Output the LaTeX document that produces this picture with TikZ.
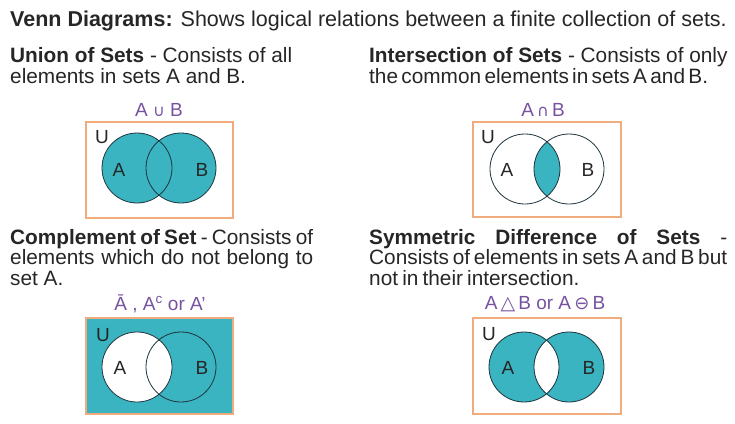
\documentclass[tikz,border=0pt]{standalone}
\usepackage{fontspec}
\setmainfont{Liberation Sans}
\newfontfamily\symfont{DejaVu Sans}
\usetikzlibrary{calc}

\definecolor{vennteal}{RGB}{58,180,192}
\definecolor{boxorange}{RGB}{240,172,125}
\definecolor{setpurple}{RGB}{118,82,160}
\definecolor{textgray}{RGB}{38,38,38}
\definecolor{edgeblue}{RGB}{30,52,62}

\newcommand{\setop}[2][16]{{\symfont\fontsize{#1}{#1}\selectfont #2}}
\newcommand{\tightline}[2]{{\spaceskip=0.16em plus 1em\makebox[#1][s]{#2}}}

\tikzset{
  headtext/.style={anchor=base west, inner sep=0pt, align=left,
    font=\fontsize{20.8}{20.5}\selectfont, text=textgray},
  setlabel/.style={anchor=base, inner sep=0pt,
    font=\fontsize{19}{20}\selectfont, text=setpurple},
  letter/.style={inner sep=0pt, font=\fontsize{19}{20}\selectfont, text=textgray},
  universe/.style={draw=boxorange, line width=1.3pt},
  setline/.style={draw=edgeblue, line width=0.8pt}
}

\begin{document}
\begin{tikzpicture}[x=1pt,y=-1pt]
            \useasboundingbox (0,0) rectangle (735,423);

            % Place the heading and the explanations (anchored at the last line)
            \node[headtext,font=\fontsize{21.5}{22}\selectfont] (title) at (10,26) {\textbf{Venn Diagrams:} Shows logical relations between a finite collection of sets.};
            \node[headtext] (unionhd) at (10,83) {\textbf{Union of Sets} - Consists of all\\elements in sets A and B.};
            \node[headtext] (interhd) at (369,83) {\textbf{Intersection of Sets} - Consists of only\\\tightline{337pt}{the common elements in sets A and B.}};
            \node[headtext] (comphd) at (10,285) {\makebox[303pt][s]{\textbf{Complement of Set} - Consists of}\\\makebox[303pt][s]{elements which do not belong to}\\set A.};
            \node[headtext] (symhd) at (369,285) {\makebox[358pt][s]{\textbf{Symmetric Difference of Sets} -}\\\tightline{358pt}{Consists of elements in sets A and B but}\\{\spaceskip=0.2em not in their intersection.}};

            % Place the set labels
            \node[setlabel] (unionlbl) at (159,116) {A \setop{∪} B};
            \node[setlabel] (interlbl) at (543,116) {A\,\setop{∩}\,B};
            \node[setlabel] (complbl) at (160,310) {Ā , A\textsuperscript{c} or A\symbol{"27}};
            \node[setlabel] (symlbl) at (545,309) {A\,\setop[19]{△}\,B or A\,\setop[18]{⊖}\,B};

            % The circle centres
            \coordinate (ua) at (137,168);
            \coordinate (ub) at (181,168);
            \coordinate (ia) at (525,169);
            \coordinate (ib) at (569,169);
            \coordinate (ca) at (137,367);
            \coordinate (cb) at (181,367);
            \coordinate (sa) at (524,367);
            \coordinate (sb) at (569,367);

            % Union
            \fill[vennteal] (ua) circle[radius=35] (ub) circle[radius=35];
            \draw[setline] (ua) circle[radius=35] (ub) circle[radius=35];
            \draw[universe] (86,122) rectangle (233,218);

            % Intersection
            \begin{scope}
              \clip (ia) circle[radius=35];
              \fill[vennteal] (ib) circle[radius=35];
            \end{scope}
            \draw[setline] (ia) circle[radius=35] (ib) circle[radius=35];
            \draw[universe] (473,122) rectangle (621,217);

            % Complement
            \fill[vennteal] (86,318) rectangle (233,414);
            \fill[white] (ca) circle[radius=35];
            \draw[setline] (ca) circle[radius=35] (cb) circle[radius=35];
            \draw[universe] (86,318) rectangle (233,414);

            % Symmetric difference
            \fill[vennteal,even odd rule] (sa) circle[radius=35] (sb) circle[radius=35];
            \draw[setline] (sa) circle[radius=35] (sb) circle[radius=35];
            \draw[universe] (473,318) rectangle (621,414);

            % The letters
            \node[letter] (u1) at (102,137) {U};
            \node[letter] (a1) at (119,170) {A};
            \node[letter] (b1) at (202,170) {B};
            \node[letter] (u2) at (488,137) {U};
            \node[letter] (a2) at (507,170) {A};
            \node[letter] (b2) at (588,170) {B};
            \node[letter] (u3) at (103,335) {U};
            \node[letter] (a3) at (120,368) {A};
            \node[letter] (b3) at (202,368) {B};
            \node[letter] (u4) at (489,334) {U};
            \node[letter] (a4) at (508,368) {A};
            \node[letter] (b4) at (589,368) {B};
        \end{tikzpicture}
\end{document}
